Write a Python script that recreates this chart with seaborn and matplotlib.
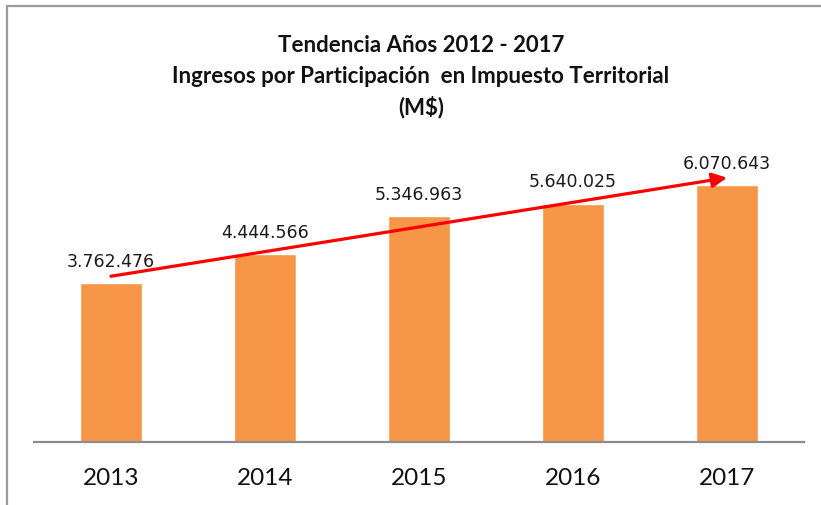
import pandas as pd
import seaborn as sns
import matplotlib.pyplot as plt
from matplotlib.lines import Line2D

# Data
years = ["2013", "2014", "2015", "2016", "2017"]
ingresos = [3762476, 4444566, 5346963, 5640025, 6070643]
etiquetas = ["3.762.476", "4.444.566", "5.346.963", "5.640.025", "6.070.643"]
tendencia = [3920000, 6250000]  # start / end of the red trend arrow

df = pd.DataFrame({"year": years, "valor": ingresos})

sns.set_style("white")
plt.rcParams['font.family'] = ['Lato', 'DejaVu Sans']

W, H = 821, 506
fig = plt.figure(figsize=(W / 100, H / 100), dpi=100)
ax = fig.add_axes([34 / W, 1 - 443 / H, (804 - 34) / W, (443 - 147) / H])

sns.barplot(data=df, x="year", y="valor", color="#F79646", width=0.4,
            saturation=1, ax=ax)

ax.set_xlim(-0.5, 4.5)
ax.set_ylim(0, 7000000)
ax.set_xlabel("")
ax.set_ylabel("")
ax.set_yticks([])
for s in ["top", "left", "right"]:
    ax.spines[s].set_visible(False)
ax.spines["bottom"].set_color("#8c8c8c")
ax.spines["bottom"].set_linewidth(1.6)
ax.tick_params(axis="x", length=0, labelsize=17.5, labelcolor="#111111", pad=18)

# value labels above bars
for i, (v, t) in enumerate(zip(ingresos, etiquetas)):
    ax.annotate(t, xy=(i, v), xytext=(0, 16), textcoords="offset points",
                ha="center", va="center", fontsize=12.5,
                family="DejaVu Sans", color="#1a1a1a")

# trend arrow
ax.annotate("", xy=(len(years) - 1, tendencia[1]), xytext=(0, tendencia[0]),
            arrowprops=dict(arrowstyle="-|>", color="red", lw=2.3,
                            mutation_scale=22, shrinkA=0, shrinkB=0))

# title
titulo = ["Tendencia Años 2012 - 2017",
          "Ingresos por Participación  en Impuesto Territorial",
          "(M$)"]
for k, linea in enumerate(titulo):
    fig.text(421 / W, 1 - (46 + 30.5 * k) / H, linea, ha="center", va="center",
             fontsize=16, fontweight="bold", color="#111111")

# outer frame (top and left)
fig.add_artist(Line2D([7 / W, 1], [1 - 7 / H, 1 - 7 / H], color="#9a9a9a", lw=1.6))
fig.add_artist(Line2D([7 / W, 7 / W], [0, 1 - 7 / H], color="#9a9a9a", lw=1.6))

fig.savefig("out.png", dpi=100)
